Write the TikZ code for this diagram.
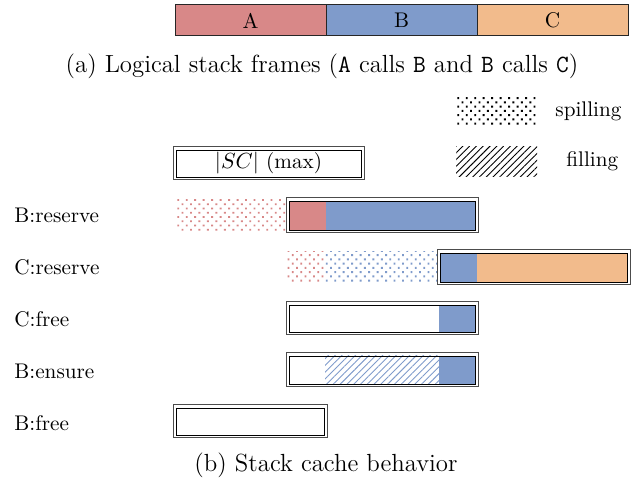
\documentclass[tikz,border=0pt]{standalone}
\usetikzlibrary{patterns.meta}
\definecolor{cA}{RGB}{216,136,136}
\definecolor{cB}{RGB}{127,155,203}
\definecolor{cC}{RGB}{242,187,140}
\begin{document}
\begin{tikzpicture}[x=0.5pt,y=-0.5pt,
  font=\fontsize{10.6}{13}\selectfont,
  frame/.style={draw=black!85,line width=0.5pt},
  outerbox/.style={draw=black!70,line width=0.5pt},
  innerbox/.style={draw=black,line width=0.45pt},
  spill/.style={pattern={Dots[angle=45,distance=3pt,radius=0.65pt]},pattern color=#1},
  fillhatch/.style={pattern={Lines[angle=45,distance=2.4pt,line width=0.45pt]},pattern color=#1},
  rowlabel/.style={anchor=west,inner sep=0pt},
  caption/.style={inner sep=0pt,font=\fontsize{12.4}{15}\selectfont}]
\useasboundingbox (0,0) rectangle (637,480);
% (a) logical frames
\draw[frame,fill=cA] (175,5) rectangle node (tA) {A} (326,36);
\draw[frame,fill=cB] (326,5) rectangle node (tB) {B} (477,36);
\draw[frame,fill=cC] (477,5) rectangle node (tC) {C} (628,36);
\node[caption] (capa) at (322,66) {(a) Logical stack frames (\texttt{A} calls \texttt{B} and \texttt{B} calls \texttt{C})};
% legend
\fill[spill=black] (456,97) rectangle (537,126);
\node[rowlabel] (lsp) at (555,111) {spilling};
\fill[fillhatch=black] (456,147) rectangle (537,177);
\node[rowlabel] (lfi) at (566,161) {filling};
% |SC| max
\draw[outerbox] (173,147) rectangle (364,180);
\draw[innerbox] (176,150) rectangle node (sc) {$|SC|$ (max)} (361,177);
% row labels
\node[rowlabel] (r1) at (14,215) {B:reserve};
\node[rowlabel] (r2) at (14,267) {C:reserve};
\node[rowlabel] (r3) at (14,319) {C:free};
\node[rowlabel] (r4) at (14,371) {B:ensure};
\node[rowlabel] (r5) at (14,423) {B:free};
% B:reserve
\fill[spill=cA] (175,200) rectangle (286,231);
\fill[cA] (289,201) rectangle (326,230);
\fill[cB] (326,201) rectangle (475,230);
\draw[outerbox] (286,198) rectangle (478,233);
\draw[innerbox] (289,201) rectangle (475,230);
% C:reserve
\fill[spill=cA] (287,252) rectangle (325,283);
\fill[spill=cB] (325,252) rectangle (437,283);
\fill[cB] (440,253) rectangle (477,282);
\fill[cC] (477,253) rectangle (627,282);
\draw[outerbox] (437,250) rectangle (630,285);
\draw[innerbox] (440,253) rectangle (627,282);
% C:free
\fill[cB] (439,305) rectangle (475,332);
\draw[outerbox] (286,302) rectangle (478,335);
\draw[innerbox] (289,305) rectangle (475,332);
% B:ensure
\fill[fillhatch=cB] (325,356) rectangle (439,384);
\fill[cB] (439,356) rectangle (475,384);
\draw[outerbox] (286,353) rectangle (478,387);
\draw[innerbox] (289,356) rectangle (475,384);
% B:free
\draw[outerbox] (173,405) rectangle (327,438);
\draw[innerbox] (176,408) rectangle (324,435);
\node[caption] (capb) at (326,465) {(b) Stack cache behavior};
\end{tikzpicture}
\end{document}
